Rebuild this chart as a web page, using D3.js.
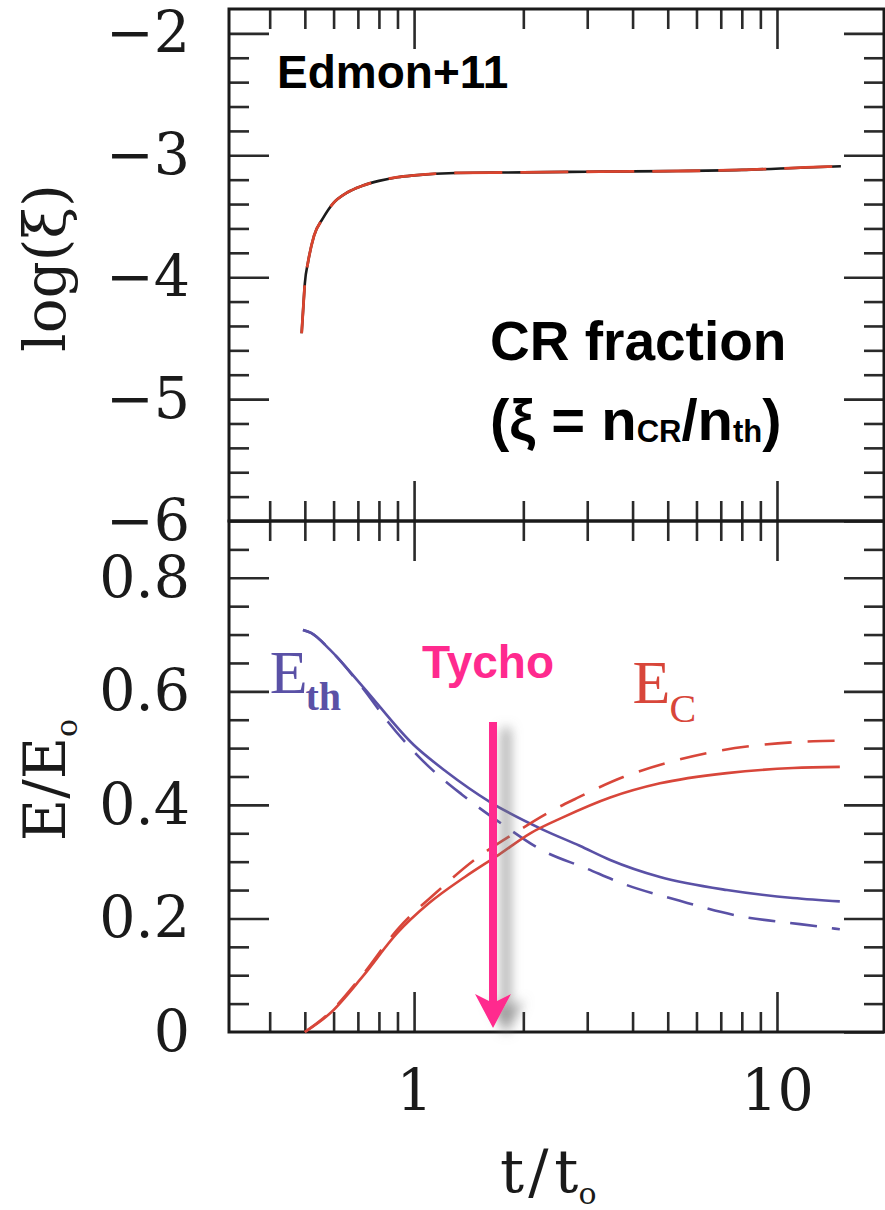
<!DOCTYPE html>
<html>
<head>
<meta charset="utf-8">
<script src="https://cdn.jsdelivr.net/npm/d3@7"></script>
<style>
  html, body { margin: 0; padding: 0; background: #fff; }
  svg { display: block; }
</style>
</head>
<body>
<svg id="chart" width="885" height="1210"></svg>
<script>
// ---------- data ----------
// top panel: log(xi) vs t/t0 (black solid, red dashed almost identical)
const tXi   = [0.49, 0.495, 0.50, 0.51, 0.53, 0.56, 0.60, 0.65, 0.72, 0.80, 0.90, 1.0, 1.3, 2, 3, 5, 8, 12, 15];
const logXi = [-4.46, -4.25, -4.05, -3.88, -3.66, -3.52, -3.39, -3.31, -3.25, -3.21, -3.18, -3.165, -3.145, -3.14, -3.135, -3.13, -3.12, -3.10, -3.09];

// bottom panel: E/E0
const tEthSolid = [0.494, 0.52, 0.587, 0.723, 1.0, 1.23, 1.62, 2.27, 2.86, 3.47, 4.76, 7.28, 11.07, 14.9];
const eThSolid  = [0.708, 0.703, 0.673, 0.608, 0.505, 0.458, 0.405, 0.356, 0.328, 0.303, 0.273, 0.25, 0.236, 0.23];
const tEthDash  = [0.494, 0.52, 0.587, 0.723, 0.848, 1.059, 1.356, 1.75, 2.27, 2.96, 3.77, 5.4, 7.91, 11.57, 14.9];
const eThDash   = [0.708, 0.703, 0.673, 0.605, 0.546, 0.477, 0.418, 0.366, 0.319, 0.289, 0.261, 0.231, 0.204, 0.19, 0.181];
const tEcSolid  = [0.50, 0.587, 0.72, 0.898, 1.10, 1.38, 1.71, 2.09, 2.57, 3.47, 4.76, 7.28, 11.07, 14.9];
const eCSolid   = [0, 0.033, 0.097, 0.174, 0.227, 0.273, 0.312, 0.35, 0.378, 0.413, 0.438, 0.456, 0.465, 0.467];
const tEcDash   = [0.50, 0.587, 0.72, 0.898, 1.157, 1.48, 1.90, 2.40, 2.77, 3.77, 4.97, 6.87, 9.13, 12.6, 14.9];
const eCDash    = [0, 0.035, 0.10, 0.18, 0.247, 0.305, 0.351, 0.39, 0.41, 0.449, 0.474, 0.495, 0.506, 0.512, 0.513];

// ticks
const xMajor = [1, 10];
const xMinor = [0.4, 0.5, 0.6, 0.7, 0.8, 0.9, 2, 3, 4, 5, 6, 7, 8, 9];
const xTickLabels = ["1", "10"];
const yTopMajor = [-6, -5, -4, -3, -2];
const yTopMinor = [-5.8, -5.6, -5.4, -5.2, -4.8, -4.6, -4.4, -4.2, -3.8, -3.6, -3.4, -3.2, -2.8, -2.6, -2.4, -2.2];
const yBotMajor = [0, 0.2, 0.4, 0.6, 0.8];
const yBotMinor = [0.05, 0.1, 0.15, 0.25, 0.3, 0.35, 0.45, 0.5, 0.55, 0.65, 0.7, 0.75, 0.85];

// annotation anchors
const tychoT = 1.65;
const tychoFrom = 0.546, tychoTo = 0.007;
const ethLabelT = 0.40, ethLabelY = 0.597;
const ecLabelT = 4.0, ecLabelY = 0.58;

// ---------- layout ----------
const L = 229, R = 884, T = 9, M = 521, B = 1032;
const svg = d3.select("#chart");

const x = d3.scaleLog().domain([0.309, 19.72]).range([L, R]);
const yTop = d3.scaleLinear().domain([-6, -1.8]).range([M, T]);
const yBot = d3.scaleLinear().domain([0, 0.9]).range([B, M]);

const serif = "'DejaVu Serif', serif";
const sans = "'Liberation Sans', Arial, sans-serif";
const tickColor = "#2a2a2a";

// shadow filter for arrow
const defs = svg.append("defs");
const f = defs.append("filter").attr("id", "shadow").attr("x", "-100%").attr("y", "-10%").attr("width", "400%").attr("height", "130%");
f.append("feDropShadow").attr("dx", 13).attr("dy", 6).attr("stdDeviation", 6)
  .attr("flood-color", "#7a7a7a").attr("flood-opacity", 0.75);

function drawAxis(axisGen, transform, sizeInner, values, labels, padding) {
  const ax = axisGen.tickValues(values).tickSizeInner(sizeInner).tickSizeOuter(0)
    .tickPadding(padding || 0)
    .tickFormat(labels ? labels : () => "");
  const g = svg.append("g").attr("transform", transform).call(ax);
  g.select(".domain").remove();
  g.selectAll(".tick line").attr("stroke", tickColor).attr("stroke-width", 2.6);
  g.selectAll(".tick text").attr("font-family", serif).attr("font-size", 57).attr("fill", "#1a1a1a");
  return g;
}

// ---- top panel axes ----
drawAxis(d3.axisLeft(yTop), `translate(${L},0)`, -40, yTopMajor, d => d3.format("d")(d), 39);
drawAxis(d3.axisLeft(yTop), `translate(${L},0)`, -20, yTopMinor);
drawAxis(d3.axisRight(yTop), `translate(${R},0)`, -40, yTopMajor);
drawAxis(d3.axisRight(yTop), `translate(${R},0)`, -20, yTopMinor);
drawAxis(d3.axisTop(x), `translate(0,${T})`, -40, xMajor);
drawAxis(d3.axisTop(x), `translate(0,${T})`, -20, xMinor);
drawAxis(d3.axisBottom(x), `translate(0,${M})`, -40, xMajor);
drawAxis(d3.axisBottom(x), `translate(0,${M})`, -20, xMinor);

// ---- bottom panel axes ----
drawAxis(d3.axisLeft(yBot), `translate(${L},0)`, -40, yBotMajor.filter(v => v !== 0), null);
drawAxis(d3.axisLeft(yBot), `translate(${L},0)`, -40, yBotMajor,
  d => d === 0 ? "0" : d3.format(".1f")(d), 39).selectAll(".tick line").remove();
drawAxis(d3.axisLeft(yBot), `translate(${L},0)`, -20, yBotMinor);
drawAxis(d3.axisRight(yBot), `translate(${R},0)`, -40, yBotMajor);
drawAxis(d3.axisRight(yBot), `translate(${R},0)`, -20, yBotMinor);
drawAxis(d3.axisTop(x), `translate(0,${M})`, -40, xMajor);
drawAxis(d3.axisTop(x), `translate(0,${M})`, -20, xMinor);
drawAxis(d3.axisBottom(x), `translate(0,${B})`, -40, xMajor, (d, i) => xTickLabels[i], 38);
drawAxis(d3.axisBottom(x), `translate(0,${B})`, -20, xMinor);

// ---- frames ----
const frame = svg.append("g").attr("fill", "none").attr("stroke", "#1a1a1a").attr("stroke-width", 3);
frame.append("rect").attr("x", L).attr("y", T).attr("width", R - L).attr("height", M - T);
frame.append("rect").attr("x", L).attr("y", M).attr("width", R - L).attr("height", B - M);

// ---- curves ----
function drawCurve(ts, vs, yScale, color, dash, width) {
  const pts = ts.map((t, i) => [t, vs[i]]);
  const line = d3.line().x(d => x(d[0])).y(d => yScale(d[1])).curve(d3.curveMonotoneX);
  svg.append("path").datum(pts).attr("d", line)
    .attr("fill", "none").attr("stroke", color).attr("stroke-width", width || 2.6)
    .attr("stroke-dasharray", dash || null).attr("stroke-linecap", "butt");
}
const blue = "#5a51a6", red = "#d8463a";
drawCurve(tXi, logXi, yTop, "#1b1b1b", null, 2.6);
drawCurve(tXi, logXi, yTop, "#d9442e", "48,18", 2.8);

drawCurve(tEthSolid, eThSolid, yBot, blue);
drawCurve(tEthDash, eThDash, yBot, blue, "27,15");
drawCurve(tEcSolid, eCSolid, yBot, red);
drawCurve(tEcDash, eCDash, yBot, red, "27,16");

// ---- text annotations ----
svg.append("text").attr("x", 277).attr("y", 88).attr("font-family", sans).attr("font-weight", "bold")
  .attr("font-size", 46).attr("fill", "#000").text("Edmon+11");

svg.append("text").attr("x", 490).attr("y", 360).attr("font-family", sans).attr("font-weight", "bold")
  .attr("font-size", 55).attr("fill", "#000").text("CR fraction");

const l2 = svg.append("text").attr("x", 490).attr("y", 440).attr("font-family", sans).attr("font-weight", "bold")
  .attr("font-size", 58).attr("fill", "#000");
l2.append("tspan").text("(ξ = n");
l2.append("tspan").attr("font-size", 31).attr("dy", 2).text("CR");
l2.append("tspan").attr("dy", -2).text("/n");
l2.append("tspan").attr("font-size", 31).attr("dy", 2).text("th");
l2.append("tspan").attr("dy", -2).text(")");

// E_th label
const eth = svg.append("text").attr("x", x(ethLabelT)).attr("y", yBot(ethLabelY)).attr("font-family", "'Liberation Serif', serif")
  .attr("font-size", 62).attr("fill", blue);
eth.append("tspan").text("E");
eth.append("tspan").attr("font-size", 40).attr("font-weight", "bold").attr("dy", 17).attr("dx", -2).text("th");

// E_C label
const ec = svg.append("text").attr("x", x(ecLabelT)).attr("y", yBot(ecLabelY)).attr("font-family", "'Liberation Serif', serif")
  .attr("font-size", 62).attr("fill", red);
ec.append("tspan").text("E");
ec.append("tspan").attr("font-size", 40).attr("dy", 19).attr("dx", -1).text("C");

// Tycho
const pink = "#ff2a8e";
svg.append("text").attr("x", 422).attr("y", 678).attr("font-family", sans).attr("font-weight", "bold")
  .attr("font-size", 46).attr("fill", pink).text("Tycho");

const ax0 = x(tychoT), ay0 = yBot(tychoFrom), ay1 = yBot(tychoTo);
const arrow = svg.append("g").attr("filter", "url(#shadow)");
arrow.append("line").attr("x1", ax0).attr("x2", ax0).attr("y1", ay0).attr("y2", ay1 - 25)
  .attr("stroke", pink).attr("stroke-width", 8);
arrow.append("path")
  .attr("d", `M${ax0},${ay1} L${ax0 - 18},${ay1 - 34} L${ax0},${ay1 - 25} L${ax0 + 18},${ay1 - 34} Z`)
  .attr("fill", pink);

// ---- axis titles ----
svg.append("text").attr("transform", "translate(65,268) rotate(-90)").attr("text-anchor", "middle")
  .attr("font-family", serif).attr("font-size", 58).attr("fill", "#1a1a1a").text("log(ξ)");

const yl = svg.append("text").attr("transform", "translate(65,780) rotate(-90)").attr("text-anchor", "middle")
  .attr("font-family", serif).attr("font-size", 58).attr("fill", "#1a1a1a");
yl.append("tspan").text("E/E");
yl.append("tspan").attr("font-size", 30).attr("dy", 12).text("o");

const xl = svg.append("text").attr("x", 500).attr("y", 1192)
  .attr("font-family", serif).attr("font-size", 60).attr("fill", "#1a1a1a");
xl.append("tspan").text("t");
xl.append("tspan").attr("dx", 4).text("/");
xl.append("tspan").attr("dx", 6).text("t");
xl.append("tspan").attr("font-size", 30).attr("dy", 12).text("o");
</script>
</body>
</html>
